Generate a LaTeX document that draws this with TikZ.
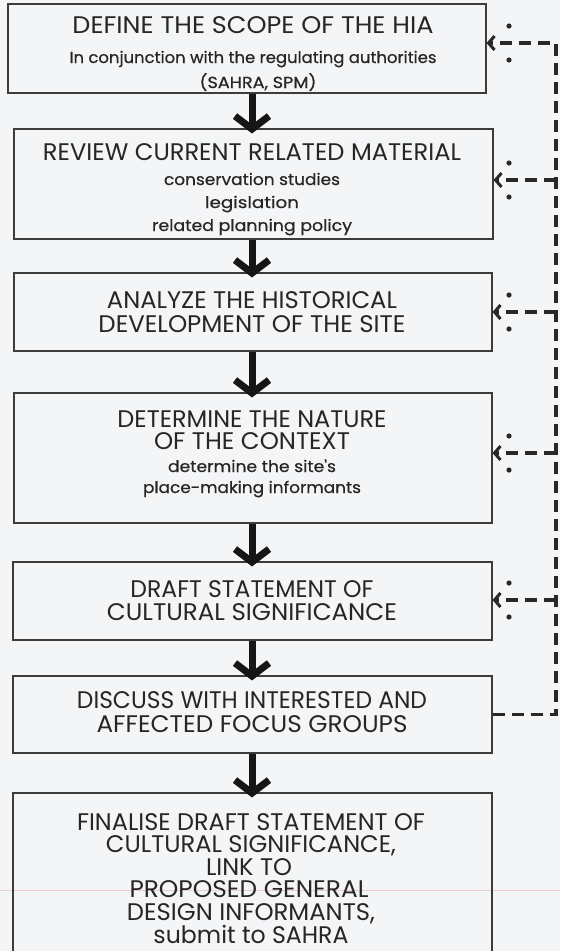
\documentclass[tikz,border=0pt]{standalone}
\usepackage{fontspec}
\usepackage{graphicx}
\usetikzlibrary{arrows.meta}
\newfontfamily\titlef{Poppins}
\newfontfamily\smallf[FakeBold=0.6]{Poppins}
\definecolor{bg}{RGB}{244,245,247}
\definecolor{ink}{RGB}{38,38,38}
\definecolor{boxline}{RGB}{60,60,60}
\definecolor{arrowc}{RGB}{22,22,22}
\definecolor{dashc}{RGB}{40,40,40}
\definecolor{scanpink}{RGB}{238,205,210}
\newcommand{\tlw}[2]{\resizebox{#1pt}{\height}{#2}}
\tikzset{
  stepbox/.style={draw=boxline, line width=1.1pt, rectangle, inner sep=0pt},
  ttl/.style={anchor=base, inner sep=0pt, text=ink, font=\titlef\fontsize{24}{24}\selectfont},
  sml/.style={anchor=base, inner sep=0pt, text=ink, font=\smallf\fontsize{16}{18}\selectfont},
  flow/.style={draw=arrowc, line width=7pt, -{Straight Barb[length=13pt,width=34pt]}, shorten >=-5pt},
  fbline/.style={draw=dashc, line width=3.6pt, dash pattern=on 12pt off 7pt},
  fbarrow/.style={fbline, -{Straight Barb[length=6pt,width=14pt,line width=3pt]}},
  fbdot/.style={fill=dashc},
}
\begin{document}
\begin{tikzpicture}[x=1pt,y=-1pt]
\useasboundingbox (0,0) rectangle (560,951);
\fill[bg] (0,0) rectangle (560,951);
\begin{scope}
\clip (0,0) rectangle (560,951);
\draw[scanpink, line width=1pt] (0,890) -- (560,890);

% boxes
\node[stepbox, minimum width=478pt, minimum height=89pt] (b1) at (247,48.5) {};
\node[stepbox, minimum width=479pt, minimum height=110pt] (b2) at (253.5,184) {};
\node[stepbox, minimum width=478pt, minimum height=78pt] (b3) at (253,312) {};
\node[stepbox, minimum width=478pt, minimum height=130pt] (b4) at (253,458) {};
\node[stepbox, minimum width=479pt, minimum height=78pt] (b5) at (252.5,601) {};
\node[stepbox, minimum width=479pt, minimum height=77pt] (b6) at (252.5,714.5) {};
\node[stepbox, minimum width=479pt, minimum height=172pt] (b7) at (252.5,879) {};
\end{scope}

% texts
\node[ttl] (t1a) at (253,33) {\tlw{361}{DEFINE THE SCOPE OF THE HIA}};
\node[sml] (t1b) at (253,63) {\tlw{367}{In conjunction with the regulating authorities}};
\node[sml] (t1c) at (258,88) {\tlw{117}{(SAHRA, SPM)}};

\node[ttl] (t2a) at (252,160) {\tlw{418}{REVIEW CURRENT RELATED MATERIAL}};
\node[sml] (t2b) at (252,185) {\tlw{176}{conservation studies}};
\node[sml] (t2c) at (252,208) {\tlw{94}{legislation}};
\node[sml] (t2d) at (252,231) {\tlw{200}{related planning policy}};

\node[ttl] (t3a) at (252,308) {\tlw{290}{ANALYZE THE HISTORICAL}};
\node[ttl] (t3b) at (252,332) {\tlw{307}{DEVELOPMENT OF THE SITE}};

\node[ttl] (t4a) at (252,427) {\tlw{269}{DETERMINE THE NATURE}};
\node[ttl] (t4b) at (252,449) {\tlw{196}{OF THE CONTEXT}};
\node[sml] (t4c) at (252,472) {\tlw{168}{determine the site's}};
\node[sml] (t4d) at (252,493) {\tlw{218}{place-making informants}};

\node[ttl] (t5a) at (252,597) {\tlw{243}{DRAFT STATEMENT OF}};
\node[ttl] (t5b) at (252,620) {\tlw{290}{CULTURAL SIGNIFICANCE}};

\node[ttl] (t6a) at (252,708) {\tlw{350}{DISCUSS WITH INTERESTED AND}};
\node[ttl] (t6b) at (252,732) {\tlw{311}{AFFECTED FOCUS GROUPS}};

\node[ttl] (t7a) at (251,830) {\tlw{348}{FINALISE DRAFT STATEMENT OF}};
\node[ttl] (t7b) at (251,852) {\tlw{290}{CULTURAL SIGNIFICANCE,}};
\node[ttl] (t7c) at (249,875) {\tlw{86}{LINK TO}};
\node[ttl] (t7d) at (249,897) {\tlw{239}{PROPOSED GENERAL}};
\node[ttl] (t7e) at (251,920) {\tlw{248}{DESIGN INFORMANTS,}};
\node[ttl] (t7f) at (251,943) {\tlw{195}{submit to SAHRA}};

% flow arrows
\coordinate (ax) at (252,0);
\draw[flow] (b1.south -| ax) -- (b2.north -| ax);
\draw[flow] (b2.south -| ax) -- (b3.north -| ax);
\draw[flow] (b3.south -| ax) -- (b4.north -| ax);
\draw[flow] (b4.south -| ax) -- (b5.north -| ax);
\draw[flow] (b5.south -| ax) -- (b6.north -| ax);
\draw[flow] (b6.south -| ax) -- (b7.north -| ax);

% feedback
\coordinate (vr) at (556,0);
\coordinate (dx) at (509,0);
\coordinate (a1) at ([yshift=5.5pt]b1.east);
\coordinate (a2) at ([yshift=4pt]b2.east);
\coordinate (a3) at (b3.east);
\coordinate (a4) at ([yshift=5pt]b4.east);
\coordinate (a5) at ([yshift=1pt]b5.east);
\draw[fbarrow] (b6.east) -- (b6.east -| vr) -- (a1 -| vr) -- (a1);
\foreach \a in {a2,a3,a4,a5}{
  \draw[fbarrow] (\a -| vr) -- (\a);
}
\foreach \a in {a1,a2,a3,a4,a5}{
  \fill[fbdot] (\a -| dx) ++(0,-17) circle (2.6pt);
  \fill[fbdot] (\a -| dx) ++(0,17) circle (2.6pt);
}
\end{tikzpicture}
\end{document}
